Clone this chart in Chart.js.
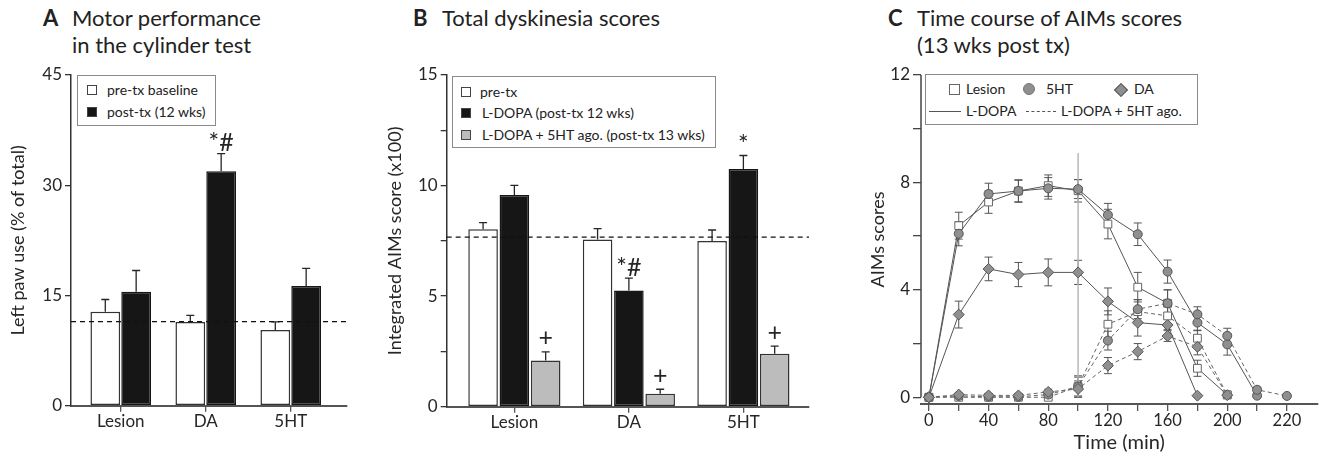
<!DOCTYPE html>
<html>
<head>
<meta charset="utf-8">
<script src="https://cdn.jsdelivr.net/npm/chart.js@4.4.1/dist/chart.umd.min.js"></script>
<style>
  body { margin: 0; width: 1324px; height: 455px; position: relative; background: #fff; overflow: hidden;
         font-family: Lato, "Open Sans", sans-serif; color: #222; }
  canvas { position: absolute; }
  .title { position: absolute; font-size: 22px; line-height: 27px; white-space: nowrap; }
  .title b { position: absolute; left: -29px; top: 0; }
  .legend { position: absolute; border: 1px solid #8a8a8a; background: #fff; font-size: 14px; box-sizing: border-box; }
  .legend span { position: absolute; line-height: 16px; white-space: nowrap; }
  .sw { position: absolute; box-sizing: border-box; width: 10px; height: 10px; border: 1px solid #444; }
</style>
</head>
<body>

<div class="title" style="left:72px; top:4px"><b>A</b>Motor performance<br>in the cylinder test</div>
<div class="title" style="left:442px; top:4px"><b>B</b>Total dyskinesia scores</div>
<div class="title" style="left:917px; top:4px"><b>C</b>Time course of AIMs scores<br>(13 wks post tx)</div>

<canvas id="chartA" width="350" height="395" style="left:0; top:60px"></canvas>
<canvas id="chartB" width="437" height="395" style="left:375px; top:60px"></canvas>
<canvas id="chartC" width="464" height="395" style="left:860px; top:60px"></canvas>

<div class="legend" style="left:77px; top:75px; width:139px; height:51px">
  <div class="sw" style="left:9px; top:9px; background:#fff"></div><span style="left:29px; top:6px">pre-tx baseline</span>
  <div class="sw" style="left:9px; top:31px; background:#161616"></div><span style="left:29px; top:28px">post-tx (12 wks)</span>
</div>

<div class="legend" style="left:452px; top:76px; width:264px; height:72px">
  <div class="sw" style="left:8px; top:10px; background:#fff"></div><span style="left:27px; top:7px">pre-tx</span>
  <div class="sw" style="left:8px; top:31px; background:#161616"></div><span style="left:29px; top:28px">L-DOPA (post-tx 12 wks)</span>
  <div class="sw" style="left:8px; top:53px; background:#bcbcbc"></div><span style="left:29px; top:50px">L-DOPA + 5HT ago. (post-tx 13 wks)</span>
</div>

<div class="legend" style="left:925px; top:74px; width:273px; height:51px">
  <div class="sw" style="left:23px; top:9px; width:11px; height:11px; background:#fff; border-color:#666"></div><span style="left:40px; top:6px">Lesion</span>
  <div class="sw" style="left:97px; top:8px; width:12px; height:12px; background:#8f8f8f; border-color:#777; border-radius:50%"></div><span style="left:120px; top:6px">5HT</span>
  <div class="sw" style="left:190px; top:10px; width:10px; height:10px; background:#8f8f8f; border-color:#555; transform:rotate(45deg)"></div><span style="left:208px; top:6px">DA</span>
  <div style="position:absolute; left:3px; top:36px; width:32px; border-top:1px solid #555"></div><span style="left:40px; top:28px">L-DOPA</span>
  <div style="position:absolute; left:100px; top:36px; width:30px; border-top:1px dashed #555"></div><span style="left:135px; top:28px">L-DOPA + 5HT ago.</span>
</div>

<script>
// ---- A: left paw use in the cylinder test (% of total)
const catsA = ['Lesion', 'DA', '5HT'];
const preA = [12.8, 11.4, 10.3];
const preAErr = [1.65, 0.9, 1.1];
const postA = [15.5, 31.9, 16.3];
const postAErr = [2.9, 2.4, 2.4];
const postAMarks = ['', '*#', ''];
const baselineA = 11.45;
const yTicksA = [0, 15, 30, 45];

// ---- B: integrated AIMs score (x100)
const catsB = ['Lesion', 'DA', '5HT'];
const preB = [8.02, 7.56, 7.49];
const preBErr = [0.3, 0.49, 0.5];
const ldopaB = [9.57, 5.26, 10.75];
const ldopaBErr = [0.44, 0.55, 0.61];
const agoB = [2.09, 0.59, 2.39];
const agoBErr = [0.39, 0.2, 0.35];
const ldopaBMarks = ['', '*#', '*'];
const agoBMarks = ['+', '+', '+'];
const baselineB = 7.67;
const yTicksB = [0, 2.5, 5, 7.5, 10, 12.5, 15];

// ---- C: AIMs time course, 13 wks post tx
const timeC = [0, 20, 40, 60, 80, 100, 120, 140, 160, 180, 200, 220, 240];
const timeTicks = [0, 20, 40, 60, 80, 100, 120, 140, 160, 180, 200, 220, 240];
const timeTickLabels = ['0', '', '40', '', '80', '', '120', '', '160', '', '200', '', '220'];
const yTicksC = [0, 2, 4, 6, 8, 10, 12];

const lesionLdopa    = [0, 6.39, 7.27, 7.68, 7.88, 7.69, 6.45, 4.10, 3.50, 1.08, 0.09];
const lesionLdopaErr = [0, 0.5, 0.42, 0.42, 0.4, 0.42, 0.55, 0.55, 0.5, 0.3, 0.05];
const htLdopa        = [0, 6.09, 7.57, 7.68, 7.78, 7.75, 6.79, 6.07, 4.68, 2.78, 1.97, 0.06];
const htLdopaErr     = [0, 0.45, 0.4, 0.4, 0.4, 0.35, 0.43, 0.42, 0.43, 0.3, 0.4, 0.05];
const daLdopa        = [0, 3.08, 4.78, 4.57, 4.65, 4.65, 3.57, 2.78, 2.69, 0.06];
const daLdopaErr     = [0, 0.5, 0.44, 0.45, 0.5, 0.45, 0.5, 0.5, 0.45, 0.05];
const lesionAgo      = [0, 0, 0, 0, 0, 0.4, 2.72, 3.19, 3.03, 2.2, 0.09];
const lesionAgoErr   = [0, 0.05, 0.05, 0.05, 0.1, 0.4, 0.5, 0.45, 0.5, 0.3, 0.05];
const htAgo          = [0, 0.05, 0.02, 0.02, 0.1, 0.4, 2.11, 3.28, 3.5, 3.09, 2.29, 0.28, 0.05];
const htAgoErr       = [0, 0.05, 0.05, 0.05, 0.1, 0.35, 0.35, 0.35, 0.5, 0.28, 0.28, 0.1, 0.03];
const daAgo          = [0, 0.1, 0.07, 0.07, 0.2, 0.31, 1.18, 1.7, 2.28, 1.88, 0.08];
const daAgoErr       = [0, 0.05, 0.05, 0.05, 0.1, 0.3, 0.3, 0.3, 0.2, 0.3, 0.05];
const agonistTime = [100, 100];
const agonistMarker = [0, 9.1];

const INK = '#262626';
Chart.defaults.font.family = 'Lato, "Open Sans", sans-serif';
Chart.defaults.color = INK;
Chart.defaults.animation = false;
Chart.defaults.plugins.legend.display = false;
Chart.defaults.plugins.tooltip.enabled = false;

// error bars, dashed reference line, significance marks
const extras = {
  id: 'extras',
  beforeDatasetsDraw(chart) {
    const ctx = chart.ctx, ys = chart.scales.y;
    ctx.save();
    chart.data.datasets.forEach((ds, di) => {
      if (!ds.errors) return;
      const meta = chart.getDatasetMeta(di);
      ctx.strokeStyle = ds.errorColor || INK;
      ctx.lineWidth = ds.errorWidth || 1.3;
      meta.data.forEach((el, i) => {
        const v = ds.data[i].y, e = ds.errors[i];
        if (!e) return;
        const top = ys.getPixelForValue(v + e);
        const bot = ys.getPixelForValue(ds.errorBoth ? v - e : v);
        const cap = ds.capWidth || 4;
        ctx.beginPath();
        ctx.moveTo(el.x, bot); ctx.lineTo(el.x, top);
        ctx.moveTo(el.x - cap, top); ctx.lineTo(el.x + cap, top);
        if (ds.errorBoth) { ctx.moveTo(el.x - cap, bot); ctx.lineTo(el.x + cap, bot); }
        ctx.stroke();
      });
    });
    ctx.restore();
  },
  afterDatasetsDraw(chart, args, opts) {
    const ctx = chart.ctx, ys = chart.scales.y, area = chart.chartArea;
    ctx.save();
    if (opts.refLine != null) {
      const py = ys.getPixelForValue(opts.refLine);
      ctx.strokeStyle = '#111'; ctx.lineWidth = 1.3; ctx.setLineDash([5, 4]);
      ctx.beginPath(); ctx.moveTo(area.left, py); ctx.lineTo(area.right, py); ctx.stroke();
      ctx.setLineDash([]);
    }
    if (opts.yAxisLine) {
      ctx.strokeStyle = '#444'; ctx.lineWidth = 1.5;
      ctx.beginPath();
      ctx.moveTo(area.left, ys.getPixelForValue(opts.yAxisLine[0]));
      ctx.lineTo(area.left, ys.getPixelForValue(opts.yAxisLine[1]));
      ctx.stroke();
    }
    ctx.fillStyle = INK;
    ctx.font = '25px Lato, "Open Sans", sans-serif';
    ctx.textAlign = 'center';
    ctx.textBaseline = 'bottom';
    chart.data.datasets.forEach((ds, di) => {
      if (!ds.marks) return;
      const meta = chart.getDatasetMeta(di);
      meta.data.forEach((el, i) => {
        if (!ds.marks[i]) return;
        const top = ys.getPixelForValue(ds.data[i].y + ds.errors[i]);
        const lift = ds.marks[i] === '+' ? 1 : -2;
        ctx.fillText(ds.marks[i], el.x, top - lift);
      });
    });
    ctx.restore();
  }
};

function barDataset(values, errs, fill, border, marks) {
  return {
    data: values.map((v, i) => ({ x: i + 1, y: v })),
    errors: errs,
    marks: marks,
    backgroundColor: fill,
    borderColor: border,
    borderWidth: 1.5,
    borderSkipped: false
  };
}

function barOptions(cats, xMin, xMax, yMax, yTicks, yTitle, yTitlePad, catPct, barPct, refLine, axisW, axisH) {
  return {
    responsive: false,
    layout: { padding: { left: 0, top: 15, right: 3, bottom: 0 } },
    datasets: { bar: { categoryPercentage: catPct, barPercentage: barPct } },
    plugins: { extras: { refLine: refLine } },
    scales: {
      x: {
        type: 'linear', min: xMin, max: xMax, offset: false,
        afterBuildTicks: ax => { ax.ticks = cats.map((c, i) => ({ value: i + 1 })) },
        afterFit: ax => { ax.height = axisH },
        grid: { drawOnChartArea: false, offset: false, tickLength: 6, color: '#555', lineWidth: 1.3 },
        border: { color: '#555', width: 2 },
        ticks: { callback: v => cats[v - 1], font: { size: 17 }, padding: 0, autoSkip: false, maxRotation: 0 }
      },
      y: {
        min: 0, max: yMax,
        afterBuildTicks: ax => { ax.ticks = yTicks.map(v => ({ value: v })) },
        afterFit: ax => { ax.width = axisW },
        grid: { drawOnChartArea: false, tickLength: 6, color: '#333', lineWidth: 1.3 },
        border: { color: '#333', width: 1.5 },
        ticks: { callback: v => (v % 5 === 0 ? v : ''), font: { size: 17 }, padding: 3, autoSkip: false },
        title: { display: true, text: yTitle, font: { size: 18 }, padding: { top: yTitlePad } }
      }
    }
  };
}

new Chart(document.getElementById('chartA'), {
  type: 'bar',
  data: {
    datasets: [
      barDataset(preA, preAErr, '#ffffff', '#333'),
      barDataset(postA, postAErr, '#161616', '#161616', postAMarks)
    ]
  },
  options: barOptions(catsA, 0.415, 3.662, 45, yTicksA, 'Left paw use (% of total)', 7, 0.726, 0.963, baselineA, 71, 49.3),
  plugins: [extras]
});

new Chart(document.getElementById('chartB'), {
  type: 'bar',
  data: {
    datasets: [
      barDataset(preB, preBErr, '#ffffff', '#333'),
      barDataset(ldopaB, ldopaBErr, '#161616', '#161616', ldopaBMarks),
      barDataset(agoB, agoBErr, '#bcbcbc', '#333', agoBMarks)
    ]
  },
  options: barOptions(catsB, 0.409, 3.573, 15, yTicksB, 'Integrated AIMs score (x100)', 9, 0.82, 0.945, baselineB, 71.7, 48.3),
  plugins: [extras]
});

// ---- C
const markerStyles = {
  lesion: { pointStyle: 'rect', pointRadius: 5.5, pointBackgroundColor: '#ffffff', pointBorderColor: '#666' },
  ht: { pointStyle: 'circle', pointRadius: 4.5, pointBackgroundColor: '#8f8f8f', pointBorderColor: '#555' },
  da: { pointStyle: 'rectRot', pointRadius: 5.5, pointBackgroundColor: '#8f8f8f', pointBorderColor: '#555' }
};

function timeSeries(values, errs, marker, dashed) {
  return Object.assign({
    data: values.map((v, i) => ({ x: timeC[i], y: v })),
    errors: errs,
    errorBoth: true,
    errorColor: '#555',
    errorWidth: 1,
    capWidth: 4,
    borderColor: dashed ? '#666' : '#555',
    borderWidth: 1,
    borderDash: dashed ? [4, 3] : [],
    pointBorderWidth: 1,
    fill: false,
    tension: 0
  }, markerStyles[marker]);
}

new Chart(document.getElementById('chartC'), {
  type: 'line',
  data: {
    datasets: [
      {
        data: agonistTime.map((t, i) => ({ x: t, y: agonistMarker[i] })),
        borderColor: '#b8b8b8', borderWidth: 1.5, pointRadius: 0, order: 10
      },
      timeSeries(daAgo, daAgoErr, 'da', true),
      timeSeries(htAgo, htAgoErr, 'ht', true),
      timeSeries(lesionAgo, lesionAgoErr, 'lesion', true),
      timeSeries(daLdopa, daLdopaErr, 'da', false),
      timeSeries(htLdopa, htLdopaErr, 'ht', false),
      timeSeries(lesionLdopa, lesionLdopaErr, 'lesion', false)
    ]
  },
  options: {
    responsive: false,
    layout: { padding: { left: 0, top: 15, right: 0, bottom: 0 } },
    plugins: { extras: { yAxisLine: [0, 12] } },
    scales: {
      x: {
        type: 'linear', min: -5.3, max: 260.5,
        afterBuildTicks: ax => { ax.ticks = timeTicks.map(v => ({ value: v })) },
        afterFit: ax => { ax.height = 51 },
        grid: { drawOnChartArea: false, tickLength: 7, color: '#555', lineWidth: 1.3 },
        border: { color: '#555', width: 2 },
        ticks: { callback: (v, i) => timeTickLabels[i], font: { size: 16.5 }, padding: 0, autoSkip: false, maxRotation: 0 },
        title: { display: true, text: 'Time (min)', font: { size: 20 }, padding: { top: 0, bottom: 0 } }
      },
      y: {
        min: -0.25, max: 12,
        afterBuildTicks: ax => { ax.ticks = yTicksC.map(v => ({ value: v })) },
        afterFit: ax => { ax.width = 61 },
        grid: { drawOnChartArea: false, tickLength: 8, color: '#444', lineWidth: 1.3 },
        border: { display: false },
        ticks: { callback: v => (v % 4 === 0 ? v : ''), font: { size: 17 }, padding: 3, autoSkip: false },
        title: { display: true, text: 'AIMs scores', font: { size: 18 }, padding: { top: 7 } }
      }
    }
  },
  plugins: [extras]
});
</script>
</body>
</html>
